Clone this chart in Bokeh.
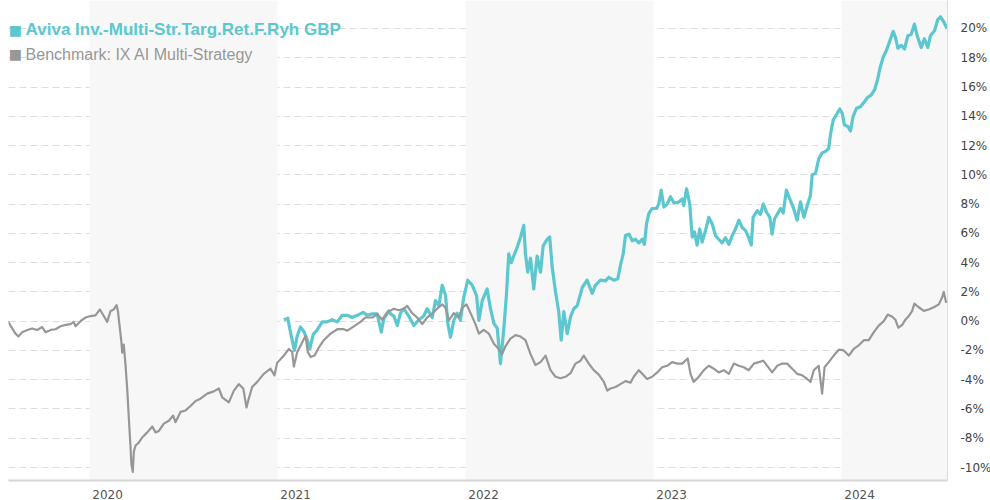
from bokeh.plotting import figure
from bokeh.models import Range1d, FixedTicker, BoxAnnotation, Label, PrintfTickFormatter
from bokeh.embed import file_html
from bokeh.resources import INLINE

# ---- data (decimal year, cumulative performance in %) ----
fund_name = "Aviva Inv.-Multi-Str.Targ.Ret.F.Ryh GBP"
bench_name = "Benchmark: IX AI Multi-Strategy"

bench_pts = [
    (2019.565, 0.0), (2019.606, -0.85), (2019.622, -1.05), (2019.642, -0.75), (2019.669, -0.6),
    (2019.695, -0.5), (2019.722, -0.6), (2019.748, -0.4), (2019.766, -0.75), (2019.793, -0.6),
    (2019.819, -0.55), (2019.846, -0.35), (2019.872, -0.25), (2019.899, -0.2), (2019.916, -0.05),
    (2019.926, -0.35), (2019.952, 0.0), (2019.979, 0.25), (2020.005, 0.35), (2020.032, 0.4),
    (2020.055, 0.8), (2020.076, 0.35), (2020.094, -0.05), (2020.112, 0.7), (2020.129, 0.8),
    (2020.144, 1.1), (2020.151, 0.7), (2020.161, -0.45), (2020.169, -1.35), (2020.174, -2.15),
    (2020.182, -1.6), (2020.191, -2.9), (2020.201, -4.75), (2020.209, -6.6), (2020.218, -8.6),
    (2020.223, -9.8), (2020.230, -10.3), (2020.236, -8.9), (2020.245, -8.5), (2020.262, -8.3),
    (2020.280, -7.95), (2020.307, -7.6), (2020.334, -7.2), (2020.351, -7.6), (2020.369, -7.5),
    (2020.395, -7.0), (2020.422, -6.8), (2020.445, -6.45), (2020.457, -6.9), (2020.484, -6.2),
    (2020.511, -6.1), (2020.537, -5.8), (2020.564, -5.45), (2020.590, -5.3), (2020.626, -4.95),
    (2020.661, -4.8), (2020.688, -4.6), (2020.706, -5.2), (2020.741, -5.55), (2020.768, -4.75),
    (2020.794, -4.3), (2020.818, -4.6), (2020.835, -5.9), (2020.847, -5.3), (2020.865, -4.5),
    (2020.892, -4.15), (2020.927, -3.6), (2020.963, -3.25), (2020.984, -3.7), (2020.998, -2.85),
    (2021.034, -2.35), (2021.060, -1.9), (2021.078, -2.1), (2021.087, -3.1), (2021.105, -2.1),
    (2021.131, -1.45), (2021.149, -1.0), (2021.161, -2.1), (2021.176, -2.45), (2021.197, -2.35),
    (2021.220, -1.8), (2021.246, -1.3), (2021.282, -0.85), (2021.318, -0.55), (2021.353, -0.55),
    (2021.371, -0.65), (2021.406, -0.35), (2021.441, -0.05), (2021.468, 0.25), (2021.504, 0.25),
    (2021.530, 0.5), (2021.557, 0.1), (2021.583, 0.6), (2021.619, 0.85), (2021.645, 0.75),
    (2021.672, 0.85), (2021.690, 1.05), (2021.716, 0.55), (2021.743, 0.25), (2021.770, -0.2),
    (2021.796, 0.25), (2021.823, 0.5), (2021.849, 0.85), (2021.876, 1.15), (2021.894, 0.9),
    (2021.911, 0.05), (2021.938, 0.55), (2021.964, 0.25), (2021.982, 0.9), (2022.005, 1.15),
    (2022.027, 0.55), (2022.053, -0.2), (2022.071, -0.85), (2022.097, -0.6), (2022.124, -0.85),
    (2022.151, -1.55), (2022.177, -1.9), (2022.195, -2.25), (2022.213, -1.7), (2022.239, -1.2),
    (2022.266, -0.95), (2022.293, -1.05), (2022.319, -1.3), (2022.346, -2.25), (2022.372, -3.0),
    (2022.399, -2.8), (2022.426, -2.35), (2022.452, -3.35), (2022.479, -3.8), (2022.505, -3.9),
    (2022.532, -3.8), (2022.559, -3.55), (2022.585, -2.9), (2022.612, -2.7), (2022.629, -2.35),
    (2022.656, -2.9), (2022.682, -3.35), (2022.709, -3.65), (2022.736, -4.15), (2022.754, -4.75),
    (2022.771, -4.6), (2022.798, -4.5), (2022.824, -4.3), (2022.851, -4.1), (2022.878, -4.2),
    (2022.895, -3.8), (2022.922, -3.35), (2022.940, -3.6), (2022.966, -3.95), (2022.993, -3.8),
    (2023.020, -3.5), (2023.046, -3.15), (2023.073, -3.05), (2023.099, -2.8), (2023.126, -2.9),
    (2023.153, -2.9), (2023.182, -2.55), (2023.197, -3.6), (2023.214, -4.15), (2023.241, -3.8),
    (2023.268, -3.35), (2023.294, -3.05), (2023.321, -3.25), (2023.347, -3.5), (2023.374, -3.35),
    (2023.401, -3.6), (2023.427, -2.9), (2023.454, -3.05), (2023.480, -3.15), (2023.507, -3.35),
    (2023.534, -2.9), (2023.560, -2.8), (2023.584, -2.7), (2023.605, -3.05), (2023.631, -3.5),
    (2023.658, -3.05), (2023.685, -2.9), (2023.711, -2.9), (2023.738, -3.25), (2023.764, -3.6),
    (2023.791, -3.7), (2023.818, -3.95), (2023.835, -4.15), (2023.853, -3.35), (2023.879, -3.05),
    (2023.897, -4.95), (2023.910, -3.15), (2023.932, -2.8), (2023.959, -2.35), (2023.986, -1.95),
    (2024.012, -2.0), (2024.039, -2.35), (2024.065, -1.9), (2024.092, -1.65), (2024.119, -1.3),
    (2024.145, -1.3), (2024.172, -0.75), (2024.198, -0.3), (2024.225, 0.0), (2024.246, 0.45),
    (2024.270, 0.3), (2024.287, 0.1), (2024.302, -0.45), (2024.323, -0.25), (2024.340, 0.1),
    (2024.358, 0.35), (2024.376, 0.7), (2024.388, 1.2), (2024.411, 0.95), (2024.438, 0.7),
    (2024.464, 0.8), (2024.491, 0.95), (2024.518, 1.15), (2024.536, 1.65), (2024.544, 2.0),
    (2024.557, 1.25),
]

fund_pts = [
    (2021.034, 0.1), (2021.055, 0.2), (2021.065, -0.5), (2021.078, -1.3), (2021.090, -2.0),
    (2021.105, -1.0), (2021.122, -0.4), (2021.140, -0.7), (2021.158, -1.3), (2021.172, -1.9),
    (2021.190, -0.9), (2021.211, -0.6), (2021.238, -0.05), (2021.264, -0.05), (2021.291, 0.1),
    (2021.318, -0.05), (2021.344, 0.4), (2021.371, 0.4), (2021.397, 0.25), (2021.424, 0.4),
    (2021.456, 0.6), (2021.477, 0.4), (2021.504, 0.5), (2021.530, 0.5), (2021.552, -0.75),
    (2021.565, 0.15), (2021.592, 0.7), (2021.601, 0.5), (2021.619, 0.35), (2021.637, -0.3),
    (2021.654, 0.55), (2021.672, 0.85), (2021.698, 0.35), (2021.725, -0.3), (2021.752, 0.1),
    (2021.778, 0.35), (2021.796, 0.85), (2021.823, 0.25), (2021.840, 1.4), (2021.858, 1.05),
    (2021.876, 2.45), (2021.894, 1.75), (2021.906, -0.15), (2021.920, -1.1), (2021.938, 0.05),
    (2021.956, 0.55), (2021.973, 0.05), (2021.991, 1.65), (2022.012, 2.8), (2022.036, 2.45),
    (2022.059, 1.75), (2022.071, 0.05), (2022.089, 1.4), (2022.115, 2.2), (2022.133, 0.85),
    (2022.151, -0.15), (2022.169, -0.5), (2022.186, -2.9), (2022.204, -0.5), (2022.218, 1.85),
    (2022.230, 4.6), (2022.243, 4.0), (2022.261, 4.6), (2022.275, 5.05), (2022.293, 5.75),
    (2022.310, 6.55), (2022.319, 4.6), (2022.331, 3.35), (2022.346, 4.3), (2022.363, 2.2),
    (2022.381, 4.45), (2022.399, 3.35), (2022.413, 5.15), (2022.435, 5.6), (2022.448, 5.75),
    (2022.461, 3.7), (2022.479, 2.0), (2022.496, 0.65), (2022.509, -1.3), (2022.523, 0.65),
    (2022.541, -0.85), (2022.559, 0.3), (2022.576, 0.85), (2022.594, 1.05), (2022.621, 2.3),
    (2022.647, 2.8), (2022.674, 1.9), (2022.691, 2.45), (2022.718, 2.8), (2022.745, 2.75),
    (2022.762, 3.0), (2022.789, 2.8), (2022.810, 2.9), (2022.824, 3.8), (2022.839, 4.6),
    (2022.851, 5.85), (2022.869, 5.95), (2022.887, 5.5), (2022.904, 5.6), (2022.922, 5.35),
    (2022.940, 5.6), (2022.952, 5.25), (2022.963, 6.65), (2022.975, 7.35), (2022.993, 7.7),
    (2023.016, 7.7), (2023.028, 8.0), (2023.041, 8.95), (2023.055, 7.8), (2023.073, 8.0),
    (2023.090, 8.5), (2023.108, 8.1), (2023.129, 8.1), (2023.153, 8.35), (2023.161, 7.9),
    (2023.176, 9.05), (2023.193, 8.0), (2023.206, 5.75), (2023.218, 6.1), (2023.232, 5.2),
    (2023.246, 6.3), (2023.259, 5.4), (2023.277, 6.2), (2023.294, 7.1), (2023.312, 6.65),
    (2023.330, 5.85), (2023.347, 5.6), (2023.365, 5.35), (2023.383, 5.7), (2023.401, 5.25),
    (2023.419, 5.85), (2023.436, 6.3), (2023.454, 6.9), (2023.472, 6.4), (2023.489, 6.2),
    (2023.507, 5.7), (2023.520, 5.2), (2023.530, 7.1), (2023.552, 7.55), (2023.569, 7.3),
    (2023.584, 8.0), (2023.601, 7.45), (2023.619, 7.1), (2023.631, 5.95), (2023.644, 7.0),
    (2023.658, 7.3), (2023.676, 7.7), (2023.690, 7.4), (2023.707, 8.95), (2023.725, 8.35),
    (2023.743, 7.8), (2023.764, 6.9), (2023.782, 8.15), (2023.800, 7.1), (2023.818, 7.9),
    (2023.835, 8.6), (2023.844, 10.0), (2023.862, 10.1), (2023.879, 11.1), (2023.897, 11.5),
    (2023.915, 11.6), (2023.932, 11.8), (2023.941, 12.7), (2023.956, 13.75), (2023.973, 14.1),
    (2023.991, 14.5), (2024.004, 14.2), (2024.016, 13.4), (2024.034, 13.3), (2024.048, 13.0),
    (2024.062, 14.0), (2024.080, 14.55), (2024.101, 14.65), (2024.122, 15.0), (2024.140, 15.3),
    (2024.158, 15.45), (2024.176, 15.8), (2024.193, 16.55), (2024.204, 17.25), (2024.222, 18.05),
    (2024.239, 18.5), (2024.257, 19.15), (2024.275, 19.8), (2024.287, 19.4), (2024.300, 18.65),
    (2024.318, 18.85), (2024.335, 18.6), (2024.353, 19.5), (2024.371, 19.6), (2024.388, 20.3),
    (2024.403, 19.5), (2024.424, 18.7), (2024.441, 19.3), (2024.459, 18.7), (2024.473, 19.5),
    (2024.495, 19.85), (2024.512, 20.6), (2024.527, 20.8), (2024.544, 20.45), (2024.562, 20.0),
]

years = [2020, 2021, 2022, 2023, 2024]
shaded_years = [2020, 2022, 2024]
y_ticks = [-10, -8, -6, -4, -2, 0, 2, 4, 6, 8, 10, 12, 14, 16, 18, 20]

bench_t = [t for t, v in bench_pts]
bench_v = [v for t, v in bench_pts]
fund_t = [t for t, v in fund_pts]
fund_v = [v for t, v in fund_pts]

FUND_COLOR = "#5cc7ce"
BENCH_COLOR = "#979797"

p = figure(
    frame_width=939, frame_height=480,
    x_range=Range1d(2019.569, 2024.564),
    y_range=Range1d(-10.888, 21.913),
    y_axis_location="right",
    toolbar_location=None, output_backend="svg",
    min_border_left=8, min_border_top=0, min_border_right=0, min_border_bottom=0,
    background_fill_color="white", border_fill_color="white",
)
p.outline_line_color = None

for y0 in shaded_years:
    p.add_layout(BoxAnnotation(left=y0, right=y0 + 1, fill_color="#f7f7f7", fill_alpha=1.0,
                               line_color=None, level="underlay"))

# grid
p.xgrid.grid_line_color = None
p.ygrid.grid_line_color = "#dddddd"
p.ygrid.grid_line_dash = "7 4"
p.ygrid.grid_line_width = 1

# y axis (right)
p.yaxis.ticker = FixedTicker(ticks=y_ticks)
p.yaxis.formatter = PrintfTickFormatter(format="%d%%")
p.yaxis.major_tick_line_color = None
p.yaxis.minor_tick_line_color = None
p.yaxis.axis_line_color = "#dcdcdc"
p.yaxis.major_label_text_font = "DejaVu Sans"
p.yaxis.major_label_text_font_size = "12px"
p.yaxis.major_label_text_color = "#444444"
p.yaxis.major_label_standoff = 7

# x axis
p.xaxis.ticker = FixedTicker(ticks=[y + 0.096 for y in years])
p.xaxis.formatter = PrintfTickFormatter(format="%d")
p.xaxis.major_tick_line_color = None
p.xaxis.minor_tick_line_color = None
p.xaxis.axis_line_color = "#d6d6d6"
p.xaxis.axis_line_width = 2
p.xaxis.major_label_text_font = "DejaVu Sans"
p.xaxis.major_label_text_font_size = "12px"
p.xaxis.major_label_text_color = "#555555"
p.xaxis.major_label_standoff = 3

p.line(fund_t, fund_v, line_color=FUND_COLOR, line_width=3.2, line_join="round")
p.line(bench_t, bench_v, line_color=BENCH_COLOR, line_width=2.2, line_join="round")

# legend (manual, to allow per-entry styling)
p.add_layout(Label(x=2019.606, y=19.9, text="\u25a0", text_color=FUND_COLOR, text_font="DejaVu Sans",
                   text_font_size="14px", text_align="center", text_baseline="middle"))
p.add_layout(Label(x=2019.660, y=19.9, text=fund_name, text_color=FUND_COLOR, text_font="Liberation Sans",
                   text_font_size="17px", text_font_style="bold", text_baseline="middle"))
p.add_layout(Label(x=2019.606, y=18.25, text="\u25a0", text_color=BENCH_COLOR, text_font="DejaVu Sans",
                   text_font_size="14px", text_align="center", text_baseline="middle"))
p.add_layout(Label(x=2019.660, y=18.25, text=bench_name, text_color=BENCH_COLOR, text_font="Liberation Sans",
                   text_font_size="16px", text_baseline="middle"))

open("out.html", "w").write(file_html(p, INLINE))
